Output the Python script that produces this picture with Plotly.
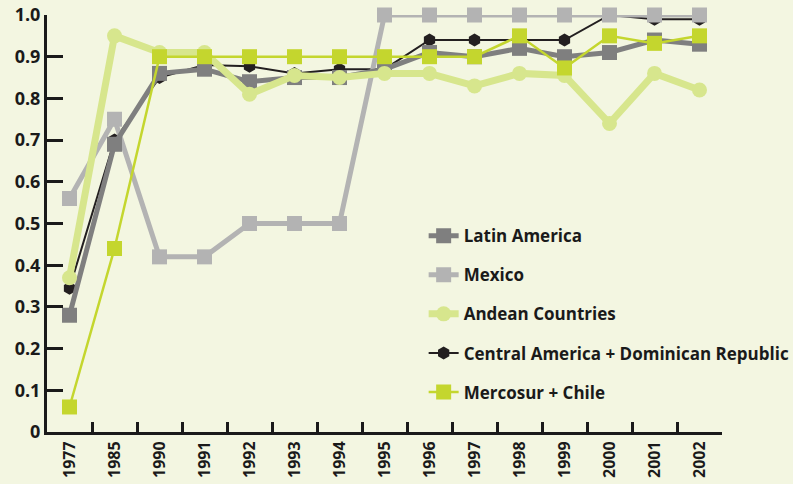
import plotly.graph_objects as go

years = ['1977', '1985', '1990', '1991', '1992', '1993', '1994', '1995',
         '1996', '1997', '1998', '1999', '2000', '2001', '2002']

latin_america = [0.28, 0.69, 0.86, 0.87, 0.84, 0.85, 0.85, 0.87,
                 0.91, 0.90, 0.92, 0.90, 0.91, 0.94, 0.93]
mexico = [0.56, 0.75, 0.42, 0.42, 0.50, 0.50, 0.50, 1.0,
          1.0, 1.0, 1.0, 1.0, 1.0, 1.0, 1.0]
andean = [0.37, 0.95, 0.91, 0.91, 0.81, 0.855, 0.85, 0.86,
          0.86, 0.83, 0.86, 0.855, 0.74, 0.86, 0.82]
central_am = [0.345, 0.70, 0.85, 0.88, 0.877, 0.86, 0.87, 0.87,
              0.94, 0.94, 0.94, 0.94, 1.0, 0.99, 0.99]
mercosur = [0.06, 0.44, 0.90, 0.90, 0.90, 0.90, 0.90, 0.90,
            0.90, 0.90, 0.95, 0.873, 0.95, 0.932, 0.95]

ytick_vals = [0, 0.1, 0.2, 0.3, 0.4, 0.5, 0.6, 0.7, 0.8, 0.9, 1.0]
ytick_text = ['0', '0.1', '0.2', '0.3', '0.4', '0.5', '0.6', '0.7', '0.8', '0.9', '1.0']

BG = '#f3f6e1'
FONT = 'Open Sans'

# drawn bottom to top; legendrank keeps the legend in the reference order
series = [
    # name, values, colour, line width, symbol, marker size, rank
    ('Central America + Dominican Republic', central_am, '#231f20', 2, 'hexagon', 13, 4),
    ('Mexico', mexico, '#b3b3b3', 5, 'square', 15, 2),
    ('Latin America', latin_america, '#7f7f7f', 5, 'square', 15, 1),
    ('Andean Countries', andean, '#d7e68d', 7, 'circle', 15, 3),
    ('Mercosur + Chile', mercosur, '#c4d62e', 2.5, 'square', 15, 5),
]

fig = go.Figure()
for name, vals, col, lw, sym, ms, rank in series:
    fig.add_trace(go.Scatter(
        x=years, y=vals, name=name, mode='lines+markers',
        line={'color': col, 'width': lw},
        marker={'symbol': sym, 'size': ms, 'color': col},
        legendrank=rank, legendgroup=name, cliponaxis=False,
    ))

fig.update_layout(
    width=793, height=484,
    paper_bgcolor=BG, plot_bgcolor=BG,
    # autoexpand off so the wide legend doesn't squeeze the plot
    margin={'l': 47, 'r': 71, 't': 15, 'b': 52, 'autoexpand': False},
    font={'family': FONT, 'size': 17, 'color': '#1a1a1a', 'weight': 'bold'},
    legend={
        'x': 0.558, 'y': 0.513, 'xanchor': 'left', 'yanchor': 'top',
        'bgcolor': 'rgba(0,0,0,0)', 'tracegroupgap': 14,
        'font': {'family': FONT, 'size': 17, 'weight': 'bold'},
    },
    xaxis={
        'type': 'category', 'range': [-0.5, 14.5], 'automargin': False,
        'showline': True, 'linecolor': '#1a1a1a', 'linewidth': 3,
        'ticks': 'inside', 'tickson': 'boundaries', 'ticklen': 10,
        'tickwidth': 2.5, 'tickcolor': '#1a1a1a',
        'tickangle': -90, 'showgrid': False, 'zeroline': False,
        'tickfont': {'size': 16, 'weight': 'bold'},
    },
    yaxis={
        'range': [0, 1.0], 'tickvals': ytick_vals, 'ticktext': ytick_text,
        'automargin': False,
        'showline': True, 'linecolor': '#1a1a1a', 'linewidth': 3,
        'ticks': 'inside', 'ticklen': 16, 'tickwidth': 3, 'tickcolor': '#1a1a1a',
        'showgrid': False, 'zeroline': False,
        'tickfont': {'size': 18, 'weight': 'bold'},
    },
)

# the default page body margin would push the 793x484 figure 8px off the window
fig.write_html('out.html', config={'displayModeBar': False},
               post_script="document.body.style.margin = '0';")
